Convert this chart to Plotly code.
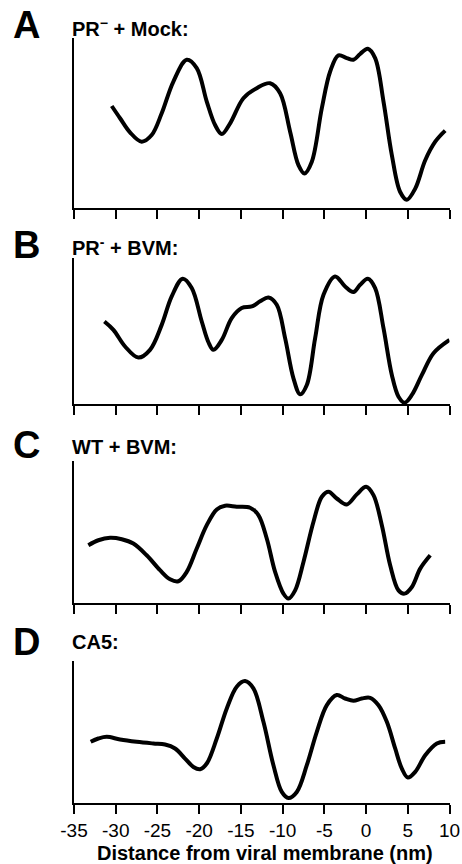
import plotly.graph_objects as go

# ---- data ----
x_a = [-30.48, -29.48, -28.29, -26.89, -25.69, -24.49, -23.09, -21.49, -20.29, -19.09, -18.09, -17.29,
       -16.29, -14.70, -13.10, -11.50, -10.30, -9.10, -8.10, -7.38, -6.50, -5.30, -4.30, -3.31, -2.31,
       -1.51, -0.71, 0.21, 1.09, 2.09, 3.09, 4.09, 4.89, 5.89, 7.09, 8.29, 9.48]
y_a = [60.0, 52.8, 44.5, 39.0, 42.9, 55.7, 74.4, 87.2, 82.3, 62.6, 48.8, 43.5,
       49.8, 64.6, 70.5, 73.4, 67.5, 44.9, 25.2, 20.3, 27.2, 58.7, 80.3, 89.8, 88.2,
       87.2, 90.6, 93.7, 88.2, 62.6, 31.1, 9.4, 4.9, 11.4, 28.1, 39.0, 45.5]

x_b = [-31.36, -30.28, -28.88, -27.29, -25.89, -24.49, -23.29, -21.97, -20.89, -19.69, -18.89, -18.29,
       -17.29, -16.10, -14.90, -13.70, -12.70, -11.70, -10.70, -9.70, -8.70, -7.90, -7.10, -6.10, -5.10,
       -3.71, -2.51, -1.51, -0.71, 0.21, 1.09, 2.09, 3.09, 3.89, 4.61, 5.49, 6.69, 8.08, 10.0]
y_b = [56.5, 50.8, 39.4, 31.8, 37.1, 54.2, 73.7, 85.8, 79.4, 56.5, 42.3, 37.1,
       43.9, 58.8, 65.7, 66.8, 70.3, 73.0, 68.0, 45.1, 17.6, 6.6, 13.0, 45.1, 74.8,
       87.4, 80.5, 76.7, 81.7, 85.8, 79.4, 51.9, 19.9, 5.0, 0.9, 6.2, 19.9, 34.8, 43.9]

x_c = [-33.28, -32.08, -30.68, -29.28, -27.89, -26.29, -24.69, -23.49, -22.49, -21.49, -20.29, -19.09,
       -17.89, -16.89, -15.50, -13.90, -12.90, -11.90, -10.90, -9.90, -9.30, -8.50, -7.50, -6.30, -5.30,
       -4.50, -3.51, -2.31, -1.11, 0.01, 0.89, 1.89, 2.89, 3.89, 4.61, 5.49, 6.49, 7.69]
y_c = [40.7, 44.2, 45.9, 44.9, 41.9, 33.6, 23.1, 16.7, 15.3, 21.9, 38.4, 54.8,
       65.9, 68.5, 67.8, 67.1, 61.9, 45.4, 21.9, 6.6, 3.1, 8.9, 28.9, 57.2, 74.8,
       78.4, 73.6, 69.4, 76.5, 81.9, 76.0, 54.8, 26.6, 8.9, 6.6, 11.3, 24.2, 33.6]

x_d = [-33.00, -32.08, -31.08, -29.48, -27.49, -25.49, -24.09, -22.89, -21.69, -20.69, -19.89, -19.09,
       -17.89, -16.69, -15.50, -14.50, -13.50, -12.30, -11.10, -10.10, -9.30, -8.30, -7.10, -5.90, -4.70,
       -3.51, -2.51, -1.51, -0.51, 0.49, 1.49, 2.49, 3.49, 4.29, 5.01, 5.89, 7.09, 8.48, 9.48]
y_d = [43.1, 45.4, 46.6, 44.7, 43.1, 41.9, 41.2, 38.4, 31.3, 25.4, 23.8, 27.8,
       45.4, 66.6, 81.9, 85.9, 80.7, 57.2, 26.6, 7.8, 3.5, 7.8, 26.6, 50.1, 68.9,
       76.0, 73.6, 72.0, 73.6, 74.1, 68.9, 57.2, 38.4, 24.2, 17.9, 21.9, 33.6, 41.9, 43.1]

panel_letters = ["A", "B", "C", "D"]
panel_titles = ["PR<sup>\u2212</sup> + Mock:", "PR<sup>-</sup> + BVM:", "WT + BVM:", "CA5:"]
tick_vals = [-35, -30, -25, -20, -15, -10, -5, 0, 5, 10]
tick_text = ["-35", "-30", "-25", "-20", "-15", "-10", "-5", "0", "5", "10"]
x_title = "Distance from viral membrane (nm)"

# ---- layout geometry (pixels) ----
W, H = 462, 864
x_left, x_right = 74, 449.5
panel_px = [(38, 208), (258, 404), (461, 603), (661, 803)]
letter_y = [25.5, 244.5, 445, 642]
title_y = [27, 246, 447, 642]

FONT = "Arial, Liberation Sans, sans-serif"

def py(p):
    return 1 - p / H

fig = go.Figure()
series = [(x_a, y_a), (x_b, y_b), (x_c, y_c), (x_d, y_d)]
layout = dict(
    width=W, height=H,
    margin=dict(l=0, r=0, t=0, b=0, autoexpand=False),
    paper_bgcolor="white", plot_bgcolor="white",
    showlegend=False,
    font=dict(family=FONT, color="black"),
)
annotations = []
for i, (xs, ys) in enumerate(series):
    n = "" if i == 0 else str(i + 1)
    fig.add_trace(go.Scatter(
        x=xs, y=ys, mode="lines",
        line=dict(color="black", width=4, shape="spline", smoothing=1.0),
        xaxis="x" + n, yaxis="y" + n, hoverinfo="skip",
    ))
    top, bot = panel_px[i]
    last = (i == 3)
    layout["xaxis" + n] = dict(
        domain=[x_left / W, x_right / W], range=[-35, 10],
        anchor="y" + n, automargin=False,
        showline=True, linecolor="black", linewidth=2,
        ticks="outside", ticklen=9, tickwidth=2, tickcolor="black",
        tickvals=tick_vals, ticktext=tick_text,
        showticklabels=last, showgrid=False, zeroline=False,
        tickfont=dict(family=FONT, size=19, color="black"),
    )
    layout["yaxis" + n] = dict(
        domain=[py(bot), py(top)], range=[0, 100],
        anchor="x" + n, automargin=False,
        showline=True, linecolor="black", linewidth=2,
        ticks="", showticklabels=False, showgrid=False, zeroline=False,
    )
    annotations.append(dict(
        text="<b>" + panel_letters[i] + "</b>", xref="paper", yref="paper",
        x=11 / W, y=py(letter_y[i]), xanchor="left", yanchor="middle",
        showarrow=False, font=dict(family=FONT, size=38, color="black"),
    ))
    annotations.append(dict(
        text="<b>" + panel_titles[i] + "</b>", xref="paper", yref="paper",
        x=70 / W, y=py(title_y[i]), xanchor="left", yanchor="middle",
        showarrow=False, font=dict(family=FONT, size=20, color="black"),
    ))
annotations.append(dict(
    text="<b>" + x_title + "</b>", xref="paper", yref="paper",
    x=(99 + 430) / 2 / W, y=py(853), xanchor="center", yanchor="middle",
    showarrow=False, font=dict(family=FONT, size=20, color="black"),
))
layout["annotations"] = annotations
fig.update_layout(**layout)
fig.write_html(
    "out.html",
    config={"displayModeBar": False},
    post_script="document.body.style.margin='0';document.body.style.padding='0';",
)
